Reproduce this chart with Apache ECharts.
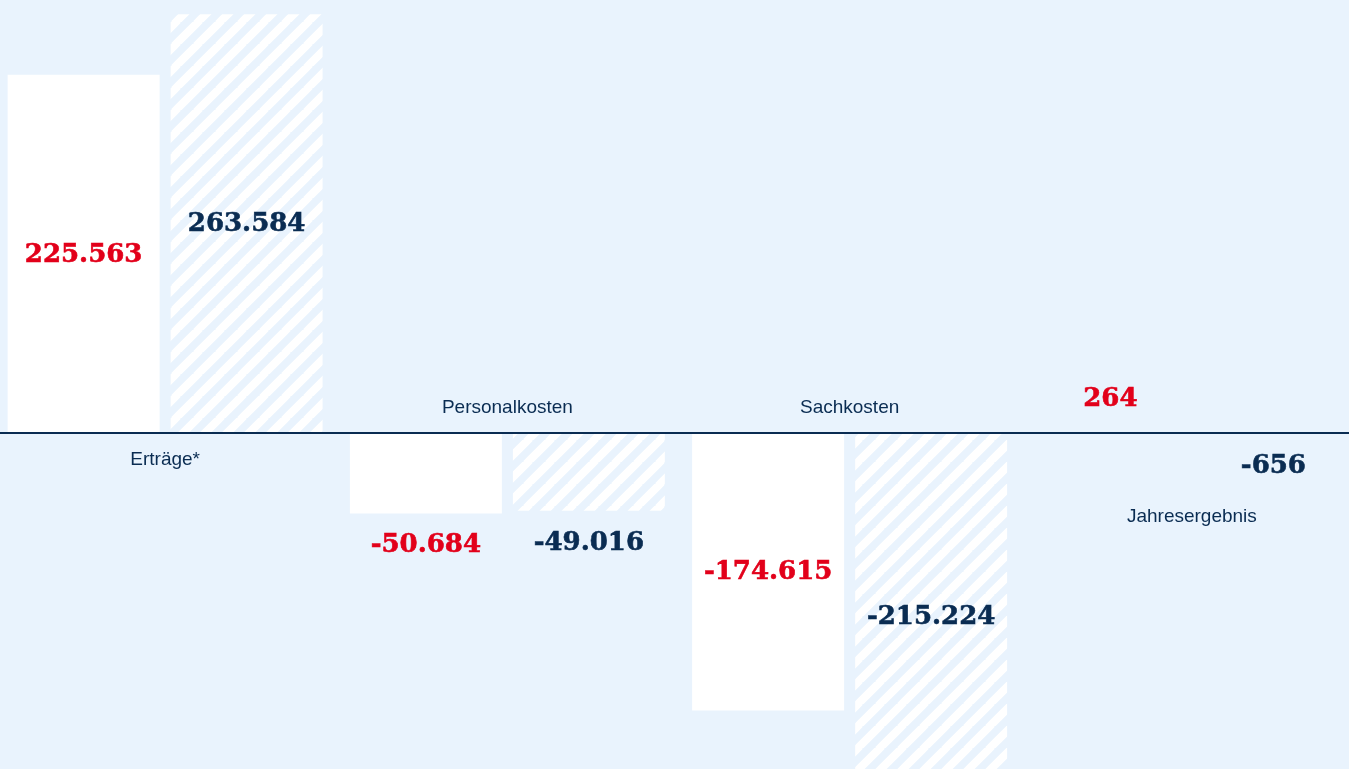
<!DOCTYPE html>
<html>
<head>
<meta charset="utf-8">
<script src="https://cdn.jsdelivr.net/npm/echarts@6/dist/echarts.min.js"></script>
<style>
html,body{margin:0;padding:0;background:#e9f3fd;}
#c{width:1349px;height:769px;}
</style>
</head>
<body>
<div id="c"></div>
<script>
// Data
const categories = ['Erträge*', 'Personalkosten', 'Sachkosten', 'Jahresergebnis'];
const seriesA = [225563, -50684, -174615, 264];   // red labels, solid white bars
const seriesB = [263584, -49016, -215224, -656];  // navy labels, striped bars

// Styles
const BG = '#e9f3fd';
const RED = '#e2001a';
const NAVY = '#0a2c52';
const catLabelOffsets = [27, -25, -25, 84];
const extraLabelOffsetB = [0, 0, 12, 0];

function fmt(v) {
  const s = Math.abs(v).toString().replace(/\B(?=(\d{3})+(?!\d))/g, '.');
  return (v < 0 ? '-' : '') + s;
}

function makeStripe() {
  const P = 22;
  const c = document.createElement('canvas');
  c.width = P; c.height = P;
  const g = c.getContext('2d');
  g.fillStyle = BG;
  g.fillRect(0, 0, P, P);
  g.strokeStyle = '#ffffff';
  g.lineWidth = 8;
  g.beginPath();
  for (let k = -1; k <= 1; k++) {
    g.moveTo(k * P - 2, P + 2);
    g.lineTo(k * P + P + 2, -2);
  }
  g.stroke();
  return c;
}

function labelFor(v, color, extra) {
  const big = Math.abs(v) > 100000;
  const lab = {
    show: true,
    formatter: fmt(v),
    color: color,
    fontFamily: 'DejaVu Serif',
    fontWeight: 'bold',
    fontSize: 26,
    textBorderColor: color,
    textBorderWidth: 0.6
  };
  if (big) {
    lab.position = 'inside';
    lab.offset = [0, (extra || 0) + 1];
  } else {
    lab.position = v >= 0 ? 'top' : 'bottom';
    lab.distance = v >= 0 ? 20 : 19;
  }
  return lab;
}

const chart = echarts.init(document.getElementById('c'), null, {renderer: 'canvas'});
const stripe = makeStripe();

chart.setOption({
  backgroundColor: BG,
  animation: false,
  grid: {left: -6, width: 1369, top: 12, height: 770.5, containLabel: false, outerBoundsMode: 'none'},
  xAxis: {
    type: 'category',
    data: categories,
    z: 10,
    axisLine: {show: true, onZero: true, lineStyle: {color: NAVY, width: 2}},
    axisTick: {show: false},
    axisLabel: {show: false},
    splitLine: {show: false}
  },
  yAxis: {
    type: 'value',
    min: -220000,
    max: 265000,
    show: false,
    splitLine: {show: false}
  },
  series: [
    {
      type: 'bar',
      barWidth: 152,
      barGap: '7.24%',
      data: seriesA.map(v => ({value: v, label: labelFor(v, RED, 0)})),
      itemStyle: {color: '#ffffff'}
    },
    {
      type: 'bar',
      barWidth: 152,
      barGap: '7.24%',
      data: seriesB.map((v, i) => ({value: v, label: labelFor(v, NAVY, extraLabelOffsetB[i])})),
      itemStyle: {color: {image: stripe, repeat: 'repeat'}}
    },
    {
      type: 'scatter',
      symbolSize: 0,
      silent: true,
      z: 11,
      itemStyle: {opacity: 1},
      data: categories.map((c, i) => ({
        value: [c, 0],
        label: {
          show: true,
          position: 'inside',
          offset: [0, catLabelOffsets[i]],
          formatter: c,
          color: NAVY,
          opacity: 1,
          fontFamily: 'Liberation Sans',
          fontSize: 19
        }
      }))
    }
  ]
});
</script>
</body>
</html>
